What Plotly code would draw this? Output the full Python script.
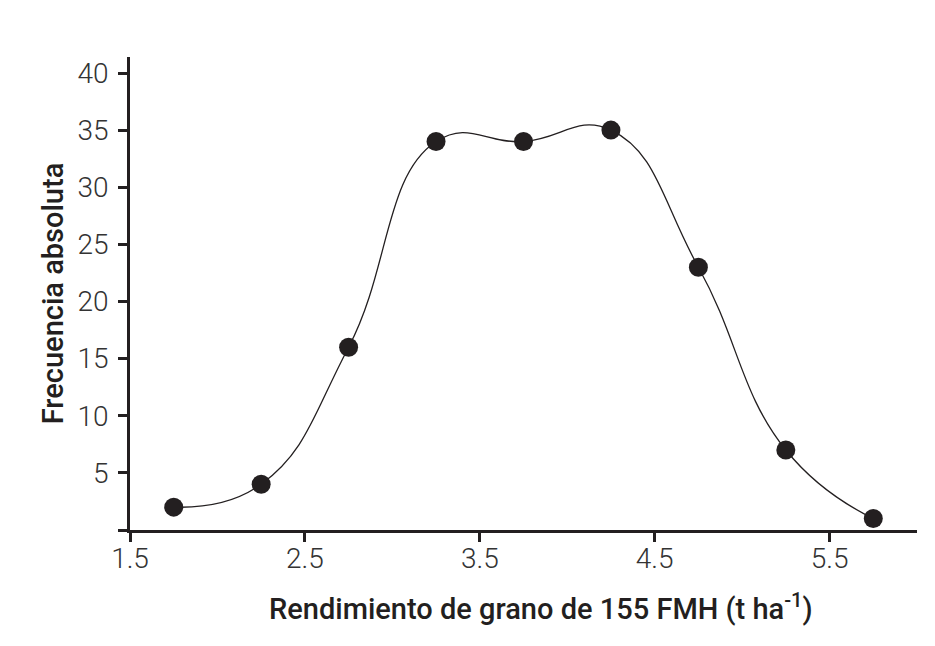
import plotly.graph_objects as go

rendimiento = [1.75, 2.25, 2.75, 3.25, 3.75, 4.25, 4.75, 5.25, 5.75]
frecuencia = [2, 4, 16, 34, 34, 35, 23, 7, 1]
x_ticks = [1.5, 2.5, 3.5, 4.5, 5.5]
y_ticks = [0, 5, 10, 15, 20, 25, 30, 35, 40]
y_tick_labels = ["", "5", "10", "15", "20", "25", "30", "35", "40"]
x_title = "Rendimiento de grano de 155 FMH (t ha<sup>-1</sup>)"
y_title = "Frecuencia absoluta"

ink = "#231f20"

fig = go.Figure()
fig.add_trace(go.Scatter(
    x=rendimiento, y=frecuencia,
    mode="lines+markers",
    line=dict(shape="spline", smoothing=1.3, color=ink, width=1.3),
    marker=dict(size=19, color=ink),
    showlegend=False,
))

tick_font = dict(family="Roboto", size=28, color="#333333", weight=300)
title_font = dict(family="Roboto", size=29, color=ink, weight=500)

fig.update_layout(
    width=935, height=646,
    margin=dict(l=122, r=26, t=49, b=124),
    paper_bgcolor="white", plot_bgcolor="white",
    xaxis=dict(
        range=[1.5, 6.0], tickvals=x_ticks, ticktext=[str(v) for v in x_ticks],
        showgrid=False, zeroline=False, automargin=False,
        showline=True, linecolor=ink, linewidth=2.5,
        ticks="", tickfont=tick_font, ticklabelstandoff=2,
        minor=dict(tickmode="array", tickvals=x_ticks, ticks="outside",
                   ticklen=9, tickwidth=2.5, tickcolor=ink, showgrid=False),
    ),
    yaxis=dict(
        range=[0, 41.4], tickvals=y_ticks, ticktext=y_tick_labels,
        showgrid=False, zeroline=False, automargin=False,
        showline=True, linecolor=ink, linewidth=2.5,
        ticks="outside", ticklen=9, tickwidth=2.5, tickcolor=ink,
        tickfont=tick_font, ticklabelstandoff=4,
        title=dict(text=y_title, font=title_font, standoff=6),
    ),
    annotations=[dict(
        text=x_title, xref="paper", yref="paper", x=0.522, y=-0.163,
        xanchor="center", yanchor="middle", showarrow=False, font=title_font,
    )],
)

fig.write_html("out.html")
